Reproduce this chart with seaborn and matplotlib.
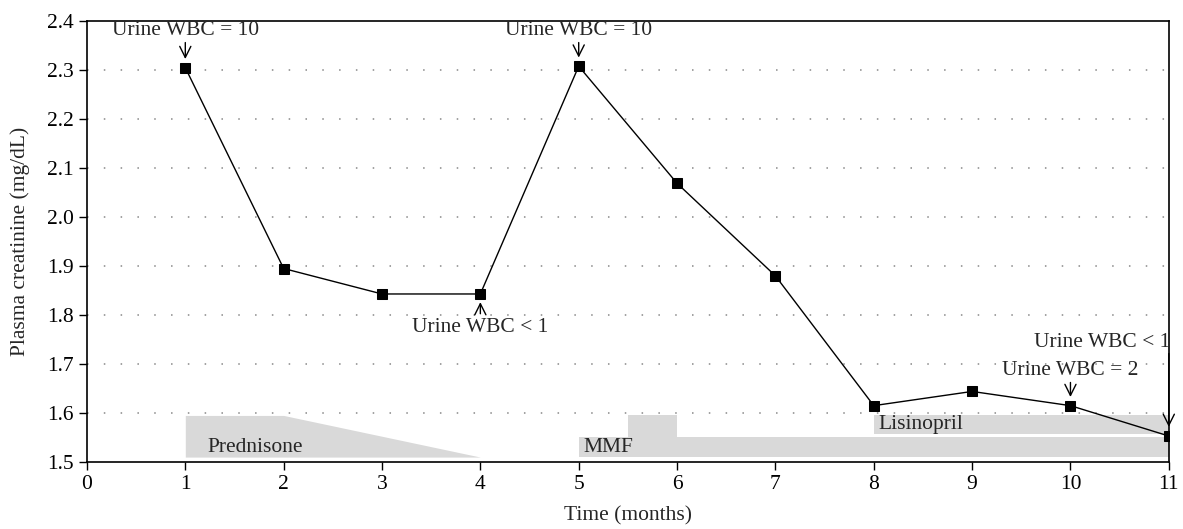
import matplotlib
matplotlib.use("Agg")
import matplotlib.pyplot as plt
import seaborn as sns
import pandas as pd

# creatinine over time
months = [1, 2, 3, 4, 5, 6, 7, 8, 9, 10, 11]
creatinine = [2.305, 1.895, 1.843, 1.843, 2.308, 2.069, 1.880, 1.615, 1.644, 1.615, 1.553]

# treatment bands
pred_x = [1, 2, 4]
pred_top = [1.595, 1.595, 1.51]
mmf_x = [5, 5.5, 5.5, 6, 6, 11]
mmf_top = [1.55, 1.55, 1.595, 1.595, 1.55, 1.55]
lis_x = [8, 11]
lis_bottom = [1.557, 1.557]
lis_top = [1.595, 1.595]

df = pd.DataFrame({"month": months, "creat": creatinine})

sns.set_style("ticks")
plt.rcParams["font.family"] = ["Liberation Serif", "DejaVu Serif"]
fs = 15.5

fig = plt.figure(figsize=(11.83, 5.29), dpi=100)
ax = fig.add_axes([0.0735, 0.1267, 0.9145, 0.8333])

band = "#d9d9d9"
ax.fill_between(pred_x, 1.51, pred_top, color=band, lw=0, zorder=1)
ax.fill_between(mmf_x, 1.51, mmf_top, color=band, lw=0, zorder=1)
ax.fill_between(lis_x, lis_bottom, lis_top, color=band, lw=0, zorder=1)
ax.text(1.22, 1.53, "Prednisone", fontsize=fs, va="center", zorder=2)
ax.text(5.05, 1.53, "MMF", fontsize=fs, va="center", zorder=2)
ax.text(8.05, 1.577, "Lisinopril", fontsize=fs, va="center", zorder=2)

for yv in [1.6, 1.7, 1.8, 1.9, 2.0, 2.1, 2.2, 2.3]:
    ax.axhline(yv, color="#888888", lw=1.1, ls=(0, (1, 10)), zorder=0)

sns.lineplot(data=df, x="month", y="creat", color="black", lw=1.0,
             marker="s", markersize=7, markeredgecolor="black", ax=ax, zorder=3)

arrow = dict(arrowstyle="->,head_length=0.5,head_width=0.25", color="black", lw=1, mutation_scale=16)
ax.text(1, 2.38, "Urine WBC = 10", ha="center", va="center", fontsize=fs)
ax.annotate("", xy=(1, 2.317), xytext=(1, 2.362), arrowprops=arrow)
ax.text(5, 2.38, "Urine WBC = 10", ha="center", va="center", fontsize=fs)
ax.annotate("", xy=(5, 2.320), xytext=(5, 2.362), arrowprops=arrow)
ax.text(4, 1.774, "Urine WBC < 1", ha="center", va="center", fontsize=fs)
ax.annotate("", xy=(4, 1.832), xytext=(4, 1.797), arrowprops=arrow)
ax.text(10, 1.686, "Urine WBC = 2", ha="center", va="center", fontsize=fs)
ax.annotate("", xy=(10, 1.627), xytext=(10, 1.668), arrowprops=arrow)
ax.text(11.01, 1.743, "Urine WBC < 1", ha="right", va="center", fontsize=fs)
ax.annotate("", xy=(11, 1.566), xytext=(11, 1.727), arrowprops=arrow)

ax.set_xlim(0, 11)
ax.set_ylim(1.5, 2.4)
ax.set_xticks(range(0, 12))
ax.set_yticks([1.5, 1.6, 1.7, 1.8, 1.9, 2.0, 2.1, 2.2, 2.3, 2.4])
ax.set_yticklabels(["1.5", "1.6", "1.7", "1.8", "1.9", "2.0", "2.1", "2.2", "2.3", "2.4"])
ax.tick_params(direction="out", length=6, width=1, labelsize=fs, colors="black")
for s in ax.spines.values():
    s.set_color("black")
    s.set_linewidth(1.2)
ax.set_xlabel("Time (months)", fontsize=fs, labelpad=9)
ax.set_ylabel("Plasma creatinine (mg/dL)", fontsize=fs, labelpad=12)

fig.savefig("out.png", dpi=100)
